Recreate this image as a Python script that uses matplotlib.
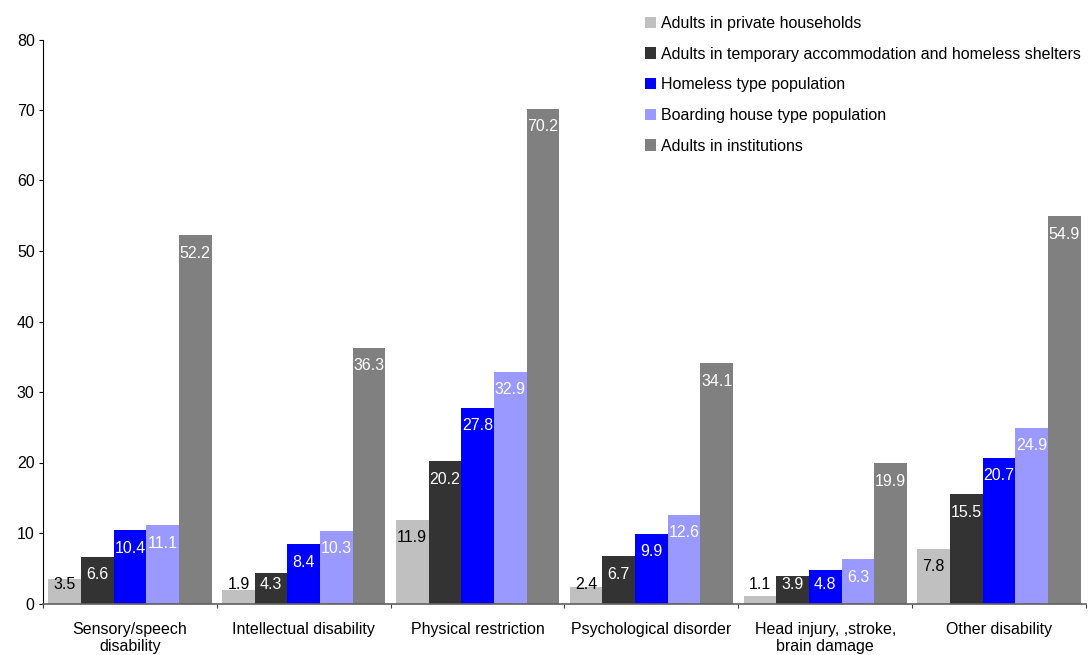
import numpy as np
import matplotlib
matplotlib.use("Agg")
import matplotlib.pyplot as plt

plt.rcParams['font.family'] = ['Liberation Sans', 'DejaVu Sans']

categories = ["Sensory/speech\ndisability", "Intellectual disability", "Physical restriction",
              "Psychological disorder", "Head injury, ,stroke,\nbrain damage", "Other disability"]
series_names = ["Adults in private households",
                "Adults in temporary accommodation and homeless shelters",
                "Homeless type population",
                "Boarding house type population",
                "Adults in institutions"]
private = [3.5, 1.9, 11.9, 2.4, 1.1, 7.8]
temporary = [6.6, 4.3, 20.2, 6.7, 3.9, 15.5]
homeless = [10.4, 8.4, 27.8, 9.9, 4.8, 20.7]
boarding = [11.1, 10.3, 32.9, 12.6, 6.3, 24.9]
institutions = [52.2, 36.3, 70.2, 34.1, 19.9, 54.9]
series = [private, temporary, homeless, boarding, institutions]

colors = ['#C0C0C0', '#333333', '#0000FF', '#9999FF', '#808080']
label_colors = ['black', 'white', 'white', 'white', 'white']

fig = plt.figure(figsize=(10.88, 6.55), dpi=100)
ax = fig.add_axes([43 / 1088, 1 - 603.5 / 655, (1086 - 43) / 1088, (603.5 - 39.5) / 655])

x = np.arange(len(categories))
width = 0.188
fs = 11.5

for i, (vals, col) in enumerate(zip(series, colors)):
    pos = x + (i - 2) * width
    ax.bar(pos, vals, width=width, color=col, label=series_names[i], linewidth=0)
    for p, v in zip(pos, vals):
        # label inside the bar end, pushed up for short bars
        y = max(v - 2.55, 2.7)
        ax.text(p, y, f"{v:.1f}", ha='center', va='center', fontsize=fs,
                color=label_colors[i])

ax.set_xlim(-0.5, len(categories) - 0.5)
ax.set_ylim(0, 80)
ax.set_yticks(np.arange(0, 81, 10))
ax.tick_params(axis='y', labelsize=fs, length=3, width=0.8, color='black', pad=3)

ax.set_xticks(np.arange(len(categories) + 1) - 0.5)
ax.set_xticklabels([])
ax.set_xticks(x, minor=True)
ax.set_xticklabels(categories, minor=True, fontsize=fs, linespacing=1.2)
ax.tick_params(axis='x', which='major', length=3, width=0.8, color='#404040')
ax.tick_params(axis='x', which='minor', length=0, pad=13)

for s in ['top', 'right']:
    ax.spines[s].set_visible(False)
ax.spines['left'].set_color('black')
ax.spines['left'].set_linewidth(0.8)
ax.spines['bottom'].set_color('#606060')
ax.spines['bottom'].set_linewidth(1.2)

fig.legend(loc='upper left', bbox_to_anchor=(645 / 1088, 1 - 16 / 655), frameon=False,
           fontsize=fs, handlelength=0.7, handleheight=0.7, handletextpad=0.3,
           labelspacing=0.98, borderaxespad=0, borderpad=0)

fig.savefig("out.png", dpi=100)
